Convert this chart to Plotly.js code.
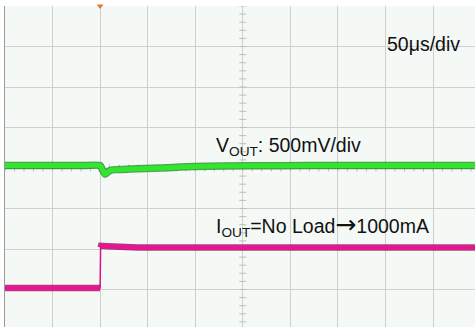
<!DOCTYPE html>
<html>
<head>
<meta charset="utf-8">
<script src="https://cdn.plot.ly/plotly-3.0.1.min.js"></script>
<style>
html,body{margin:0;padding:0;background:#ffffff;overflow:hidden;}
#chart{width:475px;height:327px;}
</style>
</head>
<body>
<div id="chart"></div>
<script>
// ---- data (read from the scope capture) ----
// time in microseconds, trigger (load step) at t = 0; 50 us/div
const timeV = [-100, -60, -20, 0, 2, 5, 7, 10.5, 16, 31.5, 63, 100, 158, 220, 300, 394];
// Vout deviation from nominal in mV (500 mV/div)
const voutDev = [0, 0, 0, 0, -40, -105, -90, -60, -50, -43, -31, -12, -3, 0, 0, 0];
// load current in mA (1000 mA/div)
const timeI = [-100, -50, 0, 0.5, 1, 8, 20, 40, 120, 250, 394];
const iout = [0, 0, 0, 1000, 1040, 1030, 1010, 1000, 1000, 1000, 1000];

const labelTime = "50μs/div";
const labelV = "V<sub>OUT</sub>: 500mV/div";
const labelI = "I<sub>OUT</sub>=No Load<span style=\"font-family:DejaVu Sans;font-size:25px\">→</span>1000mA";

// ---- screen / graticule settings ----
const usPerDiv = 50, mVPerDiv = 500, mAPerDiv = 1000;
const xRange = [-100, -100 + 9.883 * usPerDiv];
const yDivRange = [-3.926, 4];
const vZeroDiv = 0.06;     // screen division where nominal Vout sits
const iZeroDiv = -2.963;   // screen division where 0 mA sits

// centre-axis minor ticks
const tickX = [], tickXY = [], tickY = [], tickYX = [];
for (let k = -25; k <= 25; k++) { tickX.push(150 + k * usPerDiv / 5); tickXY.push(0); }
for (let k = -20; k <= 20; k++) { tickY.push(k / 5); tickYX.push(150); }

// thick trace for current: break at the step edge
const iThickT = [], iThickV = [];
for (let i = 0; i < timeI.length; i++) {
  if (i > 0 && Math.abs(iout[i] - iout[i-1]) > 500) { iThickT.push(null); iThickV.push(null); }
  iThickT.push(timeI[i]); iThickV.push(iout[i]);
}

const traces = [
  {x: tickX, y: tickXY, yaxis: 'y', mode: 'markers', type: 'scatter', hoverinfo: 'skip',
   marker: {symbol: 'line-ns', size: 5, line: {color: '#bdbdbd', width: 1}}},
  {x: tickYX, y: tickY, yaxis: 'y', mode: 'markers', type: 'scatter', hoverinfo: 'skip',
   marker: {symbol: 'line-ew', size: 5, line: {color: '#bdbdbd', width: 1}}},
  // Vout: dark noisy edge + bright core
  {x: timeV, y: voutDev, yaxis: 'y2', mode: 'lines', type: 'scatter',
   line: {color: 'rgba(20,120,20,0.7)', width: 7.5, shape: 'spline', smoothing: 0.6}},
  {x: timeV, y: voutDev, yaxis: 'y2', mode: 'lines', type: 'scatter',
   line: {color: '#2ee82e', width: 5, shape: 'spline', smoothing: 0.6}},
  // Iout: thin full line (edge) + thick horizontal parts
  {x: timeI, y: iout, yaxis: 'y3', mode: 'lines', type: 'scatter',
   line: {color: '#e0108c', width: 1.5}},
  {x: iThickT, y: iThickV, yaxis: 'y3', mode: 'lines', type: 'scatter', connectgaps: false,
   line: {color: 'rgba(120,0,70,0.7)', width: 6.5}},
  {x: iThickT, y: iThickV, yaxis: 'y3', mode: 'lines', type: 'scatter', connectgaps: false,
   line: {color: '#ea1493', width: 4.5}},
  // trigger marker
  {x: [0], y: [yDivRange[1]], yaxis: 'y', mode: 'markers', type: 'scatter', cliponaxis: false,
   marker: {symbol: 'triangle-down', size: 6, color: '#e07a3a'}}
];

const layout = {
  width: 475, height: 327,
  margin: {l: 5, r: 0, t: 6, b: 0, pad: 0},
  paper_bgcolor: '#ffffff',
  plot_bgcolor: '#f4f9f6',
  showlegend: false,
  font: {family: 'Liberation Sans, Arial, sans-serif', color: '#111111'},
  xaxis: {range: xRange, dtick: usPerDiv, tick0: 0, showgrid: true, gridcolor: '#cfcfcf', gridwidth: 1,
          zeroline: false, showticklabels: false, ticks: '', showline: false, fixedrange: true},
  yaxis: {range: yDivRange, dtick: 1, tick0: 0, showgrid: true, gridcolor: '#cfcfcf', gridwidth: 1,
          zeroline: false, showticklabels: false, ticks: '', showline: true, linecolor: '#9a9a9a',
          linewidth: 1.5, mirror: false, fixedrange: true},
  yaxis2: {overlaying: 'y', range: [(yDivRange[0] - vZeroDiv) * mVPerDiv, (yDivRange[1] - vZeroDiv) * mVPerDiv],
           showgrid: false, zeroline: false, showticklabels: false, ticks: '', showline: false},
  yaxis3: {overlaying: 'y', range: [(yDivRange[0] - iZeroDiv) * mAPerDiv, (yDivRange[1] - iZeroDiv) * mAPerDiv],
           showgrid: false, zeroline: false, showticklabels: false, ticks: '', showline: false},
  annotations: [
    {text: labelTime, xref: 'paper', yref: 'paper', x: 0.8085, y: 0.882, xanchor: 'left', yanchor: 'middle',
     showarrow: false, font: {size: 19.5, color: '#111111'}},
    {text: labelV, xref: 'paper', yref: 'paper', x: 0.4437, y: 0.562, xanchor: 'left', yanchor: 'middle',
     showarrow: false, font: {size: 19.5, color: '#111111'}},
    {text: labelI, xref: 'paper', yref: 'paper', x: 0.4437, y: 0.318, xanchor: 'left', yanchor: 'middle',
     showarrow: false, font: {size: 19.5, color: '#111111'}}
  ]
};

Plotly.newPlot('chart', traces, layout, {staticPlot: true, displayModeBar: false});
</script>
</body>
</html>
